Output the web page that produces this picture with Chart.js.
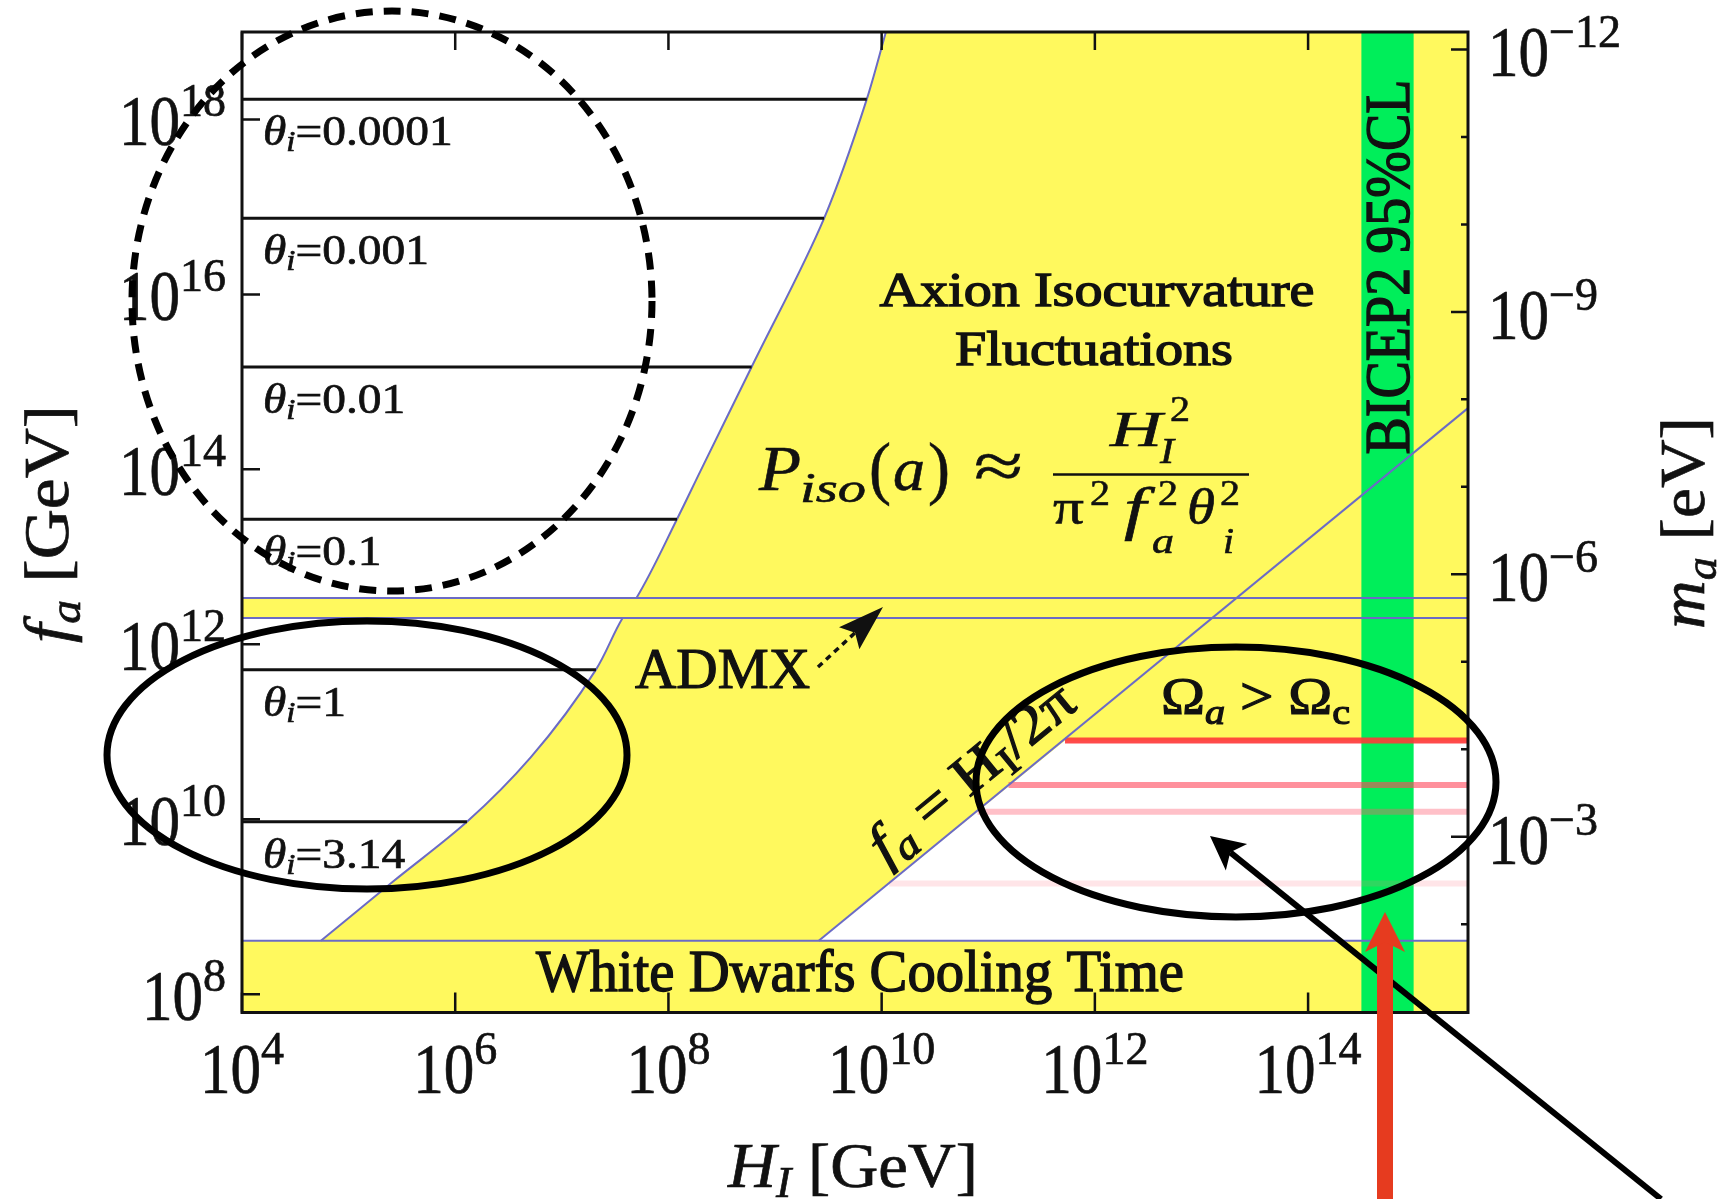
<!DOCTYPE html>
<html>
<head>
<meta charset="utf-8">
<title>Axion isocurvature bounds</title>
<script src="https://cdn.jsdelivr.net/npm/chart.js@4.4.1/dist/chart.umd.min.js"></script>
<style>
  html, body { margin: 0; padding: 0; background: #fff; }
  #wrap { width: 1725px; height: 1199px; }
</style>
</head>
<body>
<div id="wrap"><canvas id="axionChart" width="1725" height="1199"></canvas></div>
<script>
// Both axes hold log10 of the physical value
const xLimits = [4, 15.5];       // log10 H_I [GeV]
const yLimits = [7.79, 19.0];    // log10 f_a [GeV]
const massOffset = 6.8;          // log10 m_a[eV] = massOffset - log10 f_a

const xTickExps = [4, 6, 8, 10, 12, 14];
const yTickExps = [8, 10, 12, 14, 16, 18];
const massTickExps = [-12, -11, -10, -9, -8, -7, -6, -5, -4, -3, -2];
const massLabelExps = [-12, -9, -6, -3];

// isocurvature bound, from the white dwarf line up to the top of the frame
const isoBoundX = [4.74, 5.42, 6.11, 6.71, 7.32, 7.57, 7.70, 8.08, 8.30, 8.78, 9.46, 9.86, 10.04];
const isoBoundY = [8.61, 9.29, 9.97, 10.71, 11.71, 12.30, 12.53, 13.43, 13.98, 15.17, 16.87, 18.23, 19.0];

// initial misalignment angle contours
const thetaLabels = ['0.0001', '0.001', '0.01', '0.1', '1', '3.14'];
const thetaY = [18.23, 16.87, 15.17, 13.43, 11.71, 9.97];
const thetaEndX = [9.86, 9.46, 8.78, 8.08, 7.32, 6.11];

const admxY = [12.30, 12.53];
const whiteDwarfY = 8.61;
const hubbleX = [9.41, 15.5];    // f_a = H_I / 2pi
const hubbleY = [8.61, 14.7];
const bicepX = [14.50, 14.99];

// relic density lines (Omega_a > Omega_c above the first one)
const relicY = [10.90, 10.39, 10.085, 9.265];
const relicStartX = [11.72, 11.19, 10.90, 10.07];

// ---- styles
const SERIF = '"Liberation Serif", "Times New Roman", serif';
const YELLOW = '#fff95e';
const GREEN = '#00ee5a';
const BLUE = '#6b6bc6';
const INK = '#111111';
const relicColors = ['rgba(255,55,55,0.9)', 'rgba(255,70,90,0.6)', 'rgba(255,90,110,0.38)', 'rgba(255,110,130,0.18)'];

const pts = (xs, ys) => xs.map((x, i) => ({ x, y: ys[i] }));
const rect = (x0, x1, y0, y1) => [{ x: x0, y: y0 }, { x: x1, y: y0 }, { x: x1, y: y1 }, { x: x0, y: y1 }];

const line = (data, color, width, order) => ({
    data, order, showLine: true, borderColor: color, borderWidth: width,
    pointRadius: 0, pointHoverRadius: 0, fill: false, tension: 0
});
const patch = (data, color, order) => ({
    data, order, showLine: true, borderColor: 'rgba(0,0,0,0)', borderWidth: 0,
    backgroundColor: color, fill: 'shape', pointRadius: 0, pointHoverRadius: 0, tension: 0
});

const [xMin, xMax] = xLimits;
const [yMin, yMax] = yLimits;

const datasets = [
    // isocurvature bound: white to the left of the curve
    {
        data: pts(isoBoundX, isoBoundY), order: 20, indexAxis: 'y',
        cubicInterpolationMode: 'monotone', borderColor: BLUE, borderWidth: 2,
        backgroundColor: '#ffffff', fill: { value: xMin }, pointRadius: 0, pointHoverRadius: 0
    },
    patch([{ x: hubbleX[0], y: whiteDwarfY }, { x: relicStartX[0], y: relicY[0] },
           { x: xMax, y: relicY[0] }, { x: xMax, y: whiteDwarfY }], '#ffffff', 19),
    patch(rect(xMin, xMax, admxY[0], admxY[1]), YELLOW, 18),
    patch(rect(bicepX[0], bicepX[1], yMin, yMax), GREEN, 17),
    ...relicY.map((v, i) => line([{ x: relicStartX[i], y: v }, { x: xMax, y: v }], relicColors[i], 6, 16)),
    ...admxY.map(v => line([{ x: xMin, y: v }, { x: xMax, y: v }], BLUE, 2, 10)),
    line([{ x: xMin, y: whiteDwarfY }, { x: xMax, y: whiteDwarfY }], BLUE, 2, 10),
    line(pts(hubbleX, hubbleY), BLUE, 2, 10),
    ...thetaY.map((v, i) => line([{ x: xMin, y: v }, { x: thetaEndX[i], y: v }], INK, 3, 5))
];

// ---- text helpers
const fontOf = r => `${r.it ? 'italic ' : ''}${r.size}px ${SERIF}`;

function drawRuns(ctx, runs, x, y, opt = {}) {
    ctx.save();
    ctx.fillStyle = opt.color || INK;
    ctx.strokeStyle = opt.color || INK;
    ctx.lineWidth = opt.weight || 0.7;
    ctx.textBaseline = 'alphabetic';
    ctx.textAlign = 'left';
    const widths = runs.map(r => {
        ctx.font = fontOf(r);
        return ctx.measureText(r.t).width * (r.sx || 1);
    });
    const natural = widths.reduce((a, b) => a + b, 0);
    const k = opt.width ? opt.width / natural : (opt.sx || 1);
    ctx.translate(x, y);
    if (opt.angle) ctx.rotate(opt.angle);
    let cx = opt.align === 'center' ? -natural * k / 2 : opt.align === 'right' ? -natural * k : 0;
    runs.forEach((r, i) => {
        ctx.font = fontOf(r);
        ctx.save();
        ctx.translate(cx, r.dy || 0);
        ctx.scale(k * (r.sx || 1), 1);
        ctx.fillText(r.t, 0, 0);
        ctx.strokeText(r.t, 0, 0);
        ctx.restore();
        cx += widths[i] * k;
    });
    ctx.restore();
}

function drawGlyph(ctx, g) {
    ctx.save();
    ctx.font = fontOf(g);
    ctx.fillStyle = INK;
    ctx.strokeStyle = INK;
    ctx.lineWidth = 0.6;
    const w = ctx.measureText(g.t).width;
    ctx.translate(g.x, g.y);
    ctx.scale(g.w ? g.w / w : 1, 1);
    ctx.fillText(g.t, 0, 0);
    ctx.strokeText(g.t, 0, 0);
    ctx.restore();
}

const tenPow = exp => [{ t: '10', size: 71, sx: 0.86 }, { t: exp, size: 46, dy: -29 }];

function arrow(ctx, x0, y0, x1, y1, o) {
    const L = Math.hypot(x1 - x0, y1 - y0);
    const ux = (x1 - x0) / L, uy = (y1 - y0) / L, nx = -uy, ny = ux;
    const bx = x1 - ux * o.head, by = y1 - uy * o.head;
    ctx.save();
    ctx.strokeStyle = o.color;
    ctx.fillStyle = o.color;
    ctx.lineWidth = o.width;
    if (o.dash) ctx.setLineDash(o.dash);
    ctx.beginPath();
    ctx.moveTo(x0, y0);
    ctx.lineTo(bx + ux * o.notch, by + uy * o.notch);
    ctx.stroke();
    ctx.setLineDash([]);
    ctx.beginPath();
    ctx.moveTo(x1, y1);
    ctx.lineTo(bx + nx * o.half, by + ny * o.half);
    ctx.lineTo(bx + ux * o.notch, by + uy * o.notch);
    ctx.lineTo(bx - nx * o.half, by - ny * o.half);
    ctx.closePath();
    ctx.fill();
    ctx.restore();
}

// P_iso(a) ~ H_I^2 / (pi^2 f_a^2 theta_i^2), glyph by glyph
const formulaGlyphs = [
    { t: 'P', x: 759, y: 490, size: 64, it: true, w: 42 },
    { t: 'iso', x: 800, y: 502, size: 43, it: true, w: 66 },
    { t: '(', x: 869, y: 491, size: 70, w: 22 },
    { t: 'a', x: 893, y: 490, size: 62, it: true, w: 32 },
    { t: ')', x: 928, y: 491, size: 70, w: 22 },
    { t: '≈', x: 974, y: 488, size: 66, w: 49 },
    { t: 'H', x: 1110, y: 446, size: 50, it: true, w: 52 },
    { t: '2', x: 1170, y: 421, size: 36, w: 20 },
    { t: 'I', x: 1160, y: 463, size: 36, it: true, w: 14 },
    { t: 'π', x: 1053, y: 524, size: 50, w: 31 },
    { t: '2', x: 1090, y: 505, size: 36, w: 20 },
    { t: 'f', x: 1124, y: 528, size: 60, it: true, w: 22 },
    { t: '2', x: 1158, y: 505, size: 36, w: 20 },
    { t: 'a', x: 1152, y: 553, size: 36, it: true, w: 22 },
    { t: 'θ', x: 1187, y: 524, size: 50, it: true, w: 28 },
    { t: '2', x: 1220, y: 505, size: 36, w: 20 },
    { t: 'i', x: 1223, y: 553, size: 36, it: true, w: 11 }
];

function drawPlotText(chart) {
    const { ctx, scales: { x, y } } = chart;

    thetaLabels.forEach((v, i) => {
        drawRuns(ctx, [{ t: 'θ', size: 42, it: true }, { t: 'i', size: 29, it: true, dy: 6 }, { t: '=' + v, size: 42 }],
            263, y.getPixelForValue(thetaY[i]) + 46, { sx: 1.13 });
    });

    drawRuns(ctx, [{ t: 'Axion Isocurvature', size: 49 }], 1097, 306, { align: 'center', width: 435, weight: 1.4 });
    drawRuns(ctx, [{ t: 'Fluctuations', size: 49 }], 1094, 365, { align: 'center', width: 278, weight: 1.4 });

    formulaGlyphs.forEach(g => drawGlyph(ctx, g));
    ctx.save();
    ctx.strokeStyle = INK;
    ctx.lineWidth = 2.5;
    ctx.beginPath();
    ctx.moveTo(1053, 474.5);
    ctx.lineTo(1249, 474.5);
    ctx.stroke();
    ctx.restore();

    drawRuns(ctx, [{ t: 'ADMX', size: 58 }], 635, 688, { width: 175, weight: 1.2 });
    arrow(ctx, 818, 667, 883, 607, { width: 3.5, head: 46, half: 15, notch: 8, color: INK, dash: [6, 5] });

    drawRuns(ctx, [{ t: 'Ω', size: 53 }, { t: 'a', size: 36, it: true, dy: 10 }, { t: ' > ', size: 53 },
        { t: 'Ω', size: 53 }, { t: 'c', size: 36, dy: 10 }], 1161, 714, { width: 189, weight: 1.2 });

    drawRuns(ctx, [{ t: 'White Dwarfs Cooling Time', size: 59 }], 536, 991, { width: 648, weight: 1.4 });

    drawRuns(ctx, [{ t: 'BICEP2 95%CL', size: 64 }], 1409, 267,
        { align: 'center', width: 375, angle: -Math.PI / 2, weight: 1.4 });

    // label along f_a = H_I/2pi
    const ax = x.getPixelForValue(hubbleX[0]), ay = y.getPixelForValue(hubbleY[0]);
    const bx = x.getPixelForValue(hubbleX[1]), by = y.getPixelForValue(hubbleY[1]);
    const ang = Math.atan2(by - ay, bx - ax);
    drawRuns(ctx, [{ t: 'f', size: 56, it: true }, { t: 'a', size: 40, it: true, dy: 10 }, { t: ' = H', size: 56 },
        { t: 'I', size: 40, dy: 10 }, { t: '/2π', size: 56 }], 886, 866, { angle: ang, width: 250, weight: 1.2 });
}

function drawFrame(chart) {
    const { ctx, chartArea: a, scales: { x, y, y2 } } = chart;
    ctx.save();
    ctx.strokeStyle = INK;
    ctx.lineWidth = 2.5;
    ctx.beginPath();
    xTickExps.forEach(e => {
        const px = x.getPixelForValue(e);
        ctx.moveTo(px, a.bottom); ctx.lineTo(px, a.bottom - 20);
        ctx.moveTo(px, a.top); ctx.lineTo(px, a.top + 18);
    });
    yTickExps.forEach(e => {
        const py = y.getPixelForValue(e);
        ctx.moveTo(a.left, py); ctx.lineTo(a.left + 18, py);
    });
    massTickExps.forEach(e => {
        const py = y2.getPixelForValue(e);
        const len = massLabelExps.includes(e) ? 17 : 7;
        ctx.moveTo(a.right, py); ctx.lineTo(a.right - len, py);
    });
    ctx.stroke();
    ctx.lineWidth = 3;
    ctx.strokeRect(a.left, a.top, a.right - a.left, a.bottom - a.top);
    ctx.restore();
}

function drawAxisText(chart) {
    const { ctx, chartArea: a, scales: { x, y, y2 } } = chart;
    xTickExps.forEach(e => drawRuns(ctx, tenPow(String(e)), x.getPixelForValue(e), a.bottom + 80, { align: 'center' }));
    yTickExps.forEach(e => drawRuns(ctx, tenPow(String(e)), a.left - 16, y.getPixelForValue(e) + 26, { align: 'right' }));
    massLabelExps.forEach(e => drawRuns(ctx, tenPow('−' + Math.abs(e)), a.right + 20, y2.getPixelForValue(e) + 27));

    drawRuns(ctx, [{ t: 'H', size: 64, it: true }, { t: 'I', size: 44, it: true, dy: 10 }, { t: ' [GeV]', size: 64 }],
        853, 1187, { align: 'center', width: 250 });
    drawRuns(ctx, [{ t: 'f', size: 64, it: true }, { t: 'a', size: 44, it: true, dy: 12 }, { t: ' [GeV]', size: 64 }],
        68, 524, { align: 'center', width: 238, angle: -Math.PI / 2 });
    drawRuns(ctx, [{ t: 'm', size: 64, it: true }, { t: 'a', size: 44, it: true, dy: 12 }, { t: ' [eV]', size: 64 }],
        1704, 523, { align: 'center', width: 212, angle: -Math.PI / 2 });
}

function drawMarkup(chart) {
    const { ctx } = chart;
    ctx.save();
    ctx.strokeStyle = '#000';
    ctx.lineWidth = 7;
    ctx.setLineDash([17, 11]);
    ctx.beginPath(); ctx.ellipse(392, 301, 260, 290, 0, 0, 2 * Math.PI); ctx.stroke();
    ctx.setLineDash([]);
    ctx.beginPath(); ctx.ellipse(367, 755, 260, 134, 0, 0, 2 * Math.PI); ctx.stroke();
    ctx.beginPath(); ctx.ellipse(1236, 782, 260, 135, 0, 0, 2 * Math.PI); ctx.stroke();
    ctx.restore();
    arrow(ctx, 1661, 1199, 1210, 836, { width: 6, head: 34, half: 17, notch: 8, color: '#000' });
    arrow(ctx, 1385, 1205, 1385, 912, { width: 16, head: 40, half: 20, notch: 10, color: '#e63b1f' });
}

const decorations = {
    id: 'decorations',
    beforeDatasetsDraw(chart) {
        const { ctx, chartArea: a } = chart;
        ctx.save();
        ctx.fillStyle = YELLOW;
        ctx.fillRect(a.left, a.top, a.right - a.left, a.bottom - a.top);
        ctx.restore();
    },
    afterDatasetsDraw(chart) {
        drawPlotText(chart);
    },
    afterDraw(chart) {
        drawFrame(chart);
        drawAxisText(chart);
        drawMarkup(chart);
    }
};

new Chart(document.getElementById('axionChart'), {
    type: 'line',
    data: { datasets },
    options: {
        responsive: false,
        devicePixelRatio: 1,
        animation: false,
        events: [],
        layout: { padding: { left: 242, top: 32, right: 257, bottom: 186.5 } },
        plugins: { legend: { display: false }, tooltip: { enabled: false } },
        scales: {
            x: { type: 'linear', min: xMin, max: xMax, display: false },
            y: { type: 'linear', min: yMin, max: yMax, display: false },
            y2: { type: 'linear', position: 'right', reverse: true,
                  min: massOffset - yMax, max: massOffset - yMin, display: false }
        }
    },
    plugins: [decorations]
});
</script>
</body>
</html>
